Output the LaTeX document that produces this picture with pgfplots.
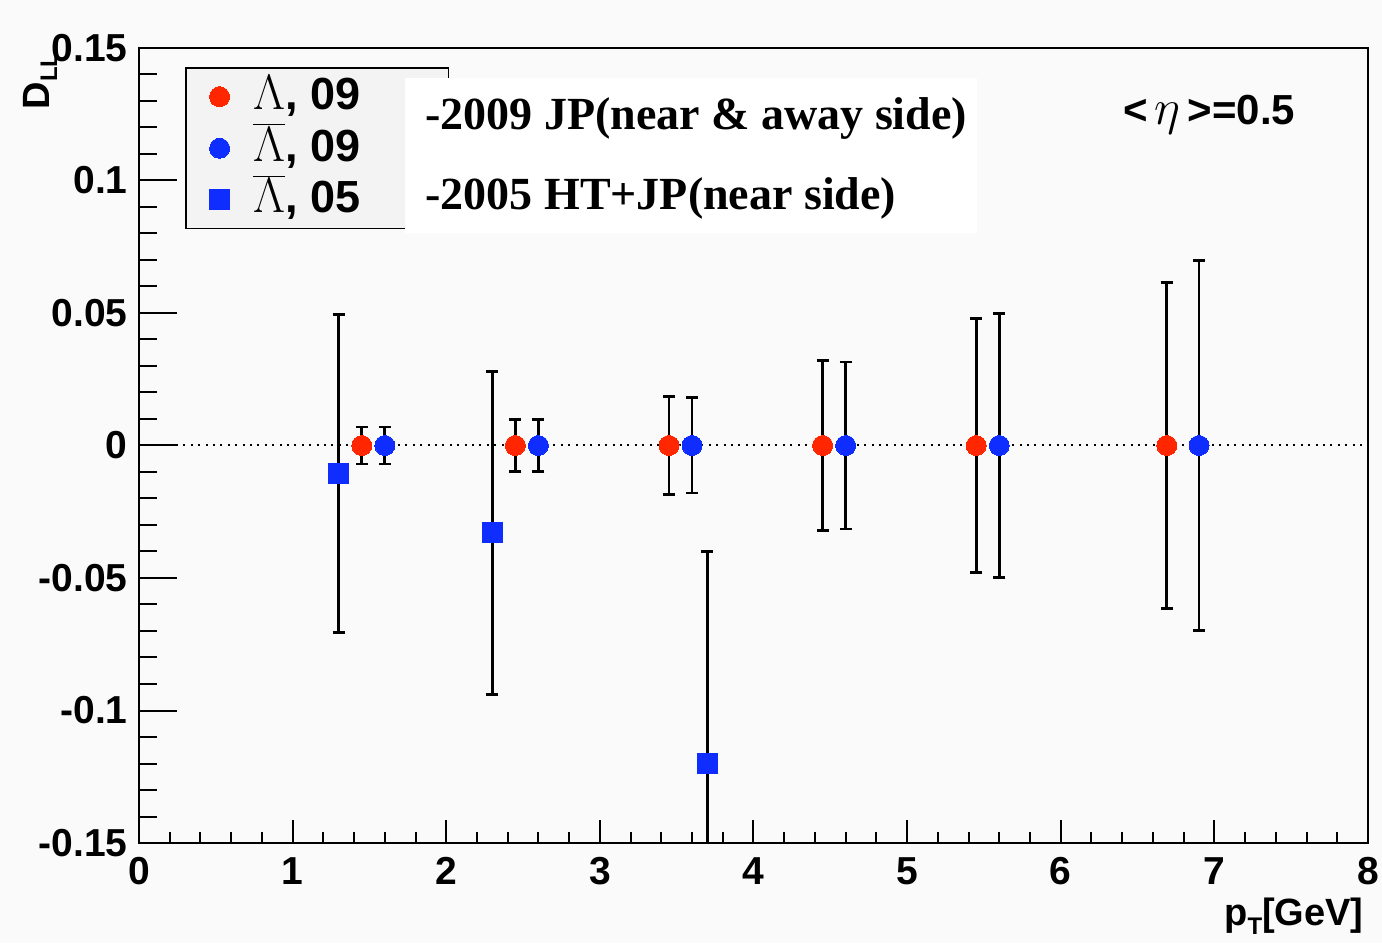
\documentclass[border=0pt]{standalone}
\usepackage{fontspec}
\setmainfont{Liberation Sans}
\newfontfamily\timesf{Liberation Serif}
\usepackage{pgfplots}
\pgfplotsset{compat=1.18}
\definecolor{bg}{RGB}{250,250,250}
\definecolor{legbg}{RGB}{243,243,243}
\definecolor{rootred}{RGB}{255,38,0}
\definecolor{rootblue}{RGB}{15,45,255}
\newcommand{\legtxt}[1]{\makebox[97.5pt][l]{#1}}
\pgfplotsset{legimg/.style={legend image code/.code={\path (0pt,0pt) (33pt,0pt); \draw[##1] plot coordinates {(16.5pt,0pt)};}}}
\begin{document}
\begin{tikzpicture}
\begin{scope}[x=0.5pt,y=0.5pt]
\fill[bg] (0,0) rectangle (1382,943);
\path[use as bounding box] (0,0) rectangle (1382,943);
\end{scope}
\begin{axis}[
  at={(69.5pt,50pt)}, anchor=south west,
  width=614.5pt, height=397.5pt, scale only axis,
  xmin=0, xmax=8, ymin=-0.15, ymax=0.15,
  axis line style={line width=1pt, black},
  xtick={0,1,2,3,4,5,6,7,8},
  xticklabels={0,1,2,3,4,5,6,7,8},
  minor x tick num=4,
  ytick={-0.15,-0.1,-0.05,0,0.05,0.1,0.15},
  yticklabels={-0.15,-0.1,-0.05,0,0.05,0.1,0.15},
  minor y tick num=4,
  tick align=inside, tick pos=left,
  xtick style={black, line width=1pt, /pgfplots/major tick length=11.5pt, /pgfplots/minor tick length=5.5pt},
  ytick style={black, line width=1pt, /pgfplots/major tick length=19pt, /pgfplots/minor tick length=9pt},
  ticklabel style={font=\fontsize{19.5}{19.5}\selectfont\bfseries},
  yticklabel style={inner sep=0pt, xshift=-5.5pt},
  xticklabel style={inner sep=0pt, yshift=-7pt},
  legend style={at={(rel axis cs:0.0374,0.976)}, anchor=north west, fill=legbg, draw=black, line width=0.8pt,
    font=\fontsize{22.5}{22.5}\selectfont, inner xsep=0pt, inner ysep=1.5pt, row sep=0pt,
    nodes={inner sep=0pt, text height=19.4pt, text depth=6.4pt}},
  legend cell align=left,
]
\addplot[black, line width=1pt, dash pattern=on 1pt off 2.7pt, forget plot] coordinates {(0,0) (8,0)};
\addplot[only marks, legimg, mark=*, mark size=5pt, color=rootred, mark options={fill=rootred, draw=rootred, line width=0pt},
  error bars/.cd, y dir=both, y explicit,
  error bar style={black, line width=1.3pt},
  error mark options={rotate=90, mark size=3pt, black, line width=1.3pt}]
  coordinates {
  (1.45,0) +- (0,0.007)
  (2.45,0) +- (0,0.0098)
  (3.45,0) +- (0,0.0185)
  (4.45,0) +- (0,0.032)
  (5.45,0) +- (0,0.048)
  (6.69,0) +- (0,0.0615)
  };
\addlegendentry{\legtxt{{\fontsize{24}{24}\selectfont$\Lambda$}\textbf{, 09}}}
\addplot[only marks, legimg, mark=*, mark size=5pt, color=rootblue, mark options={fill=rootblue, draw=rootblue, line width=0pt},
  error bars/.cd, y dir=both, y explicit,
  error bar style={black, line width=1.3pt},
  error mark options={rotate=90, mark size=3pt, black, line width=1.3pt}]
  coordinates {
  (1.6,0) +- (0,0.007)
  (2.6,0) +- (0,0.0098)
  (3.6,0) +- (0,0.018)
  (4.6,0) +- (0,0.0315)
  (5.6,0) +- (0,0.0498)
  (6.9,0) +- (0,0.0697)
  };
\addlegendentry{\legtxt{{\fontsize{24}{24}\selectfont$\overline{\Lambda}$}\textbf{, 09}}}
\addplot[only marks, legimg, mark=square*, mark size=5pt, color=rootblue, mark options={fill=rootblue, draw=rootblue, line width=0pt},
  error bars/.cd, y dir=both, y explicit,
  error bar style={black, line width=1.3pt},
  error mark options={rotate=90, mark size=3pt, black, line width=1.3pt}]
  coordinates {
  (1.3,-0.0105) +- (0,0.06)
  (2.3,-0.033) +- (0,0.061)
  (3.7,-0.12) +- (0,0.08)
  };
\addlegendentry{\legtxt{{\fontsize{24}{24}\selectfont$\overline{\Lambda}$}\textbf{, 05}}}
\end{axis}
\begin{scope}[x=0.5pt,y=0.5pt]
\fill[white] (405,710) rectangle (977,865);
\node[anchor=base west, inner sep=0pt, font=\timesf\fontsize{23}{23}\selectfont\bfseries] at (425,813) {-2009 JP(near \& away side)};
\node[anchor=base west, inner sep=0pt, font=\timesf\fontsize{23}{23}\selectfont\bfseries] at (425,733) {-2005 HT+JP(near side)};
\node[anchor=base west, inner sep=0pt, font=\fontsize{21}{21}\selectfont\bfseries] at (1123,818) {<\,{\fontsize{29}{29}\selectfont$\eta$}\,>=0.5};
\node[rotate=90, anchor=base east, inner sep=0pt, font=\fontsize{19}{19}\selectfont\bfseries] at (50,891) {D\raisebox{-0.35ex}{\fontsize{12}{12}\selectfont LL}};
\node[anchor=base east, inner sep=0pt, font=\fontsize{19}{19}\selectfont\bfseries] at (1364,18) {p\raisebox{-0.45ex}{\fontsize{12}{12}\selectfont T}[GeV]};
\end{scope}
\end{tikzpicture}
\end{document}
